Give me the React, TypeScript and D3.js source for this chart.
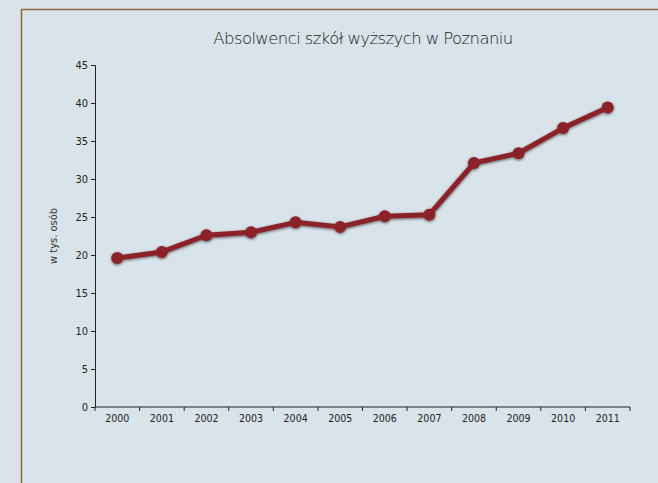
import React, { useEffect, useRef } from "react";
import * as d3 from "d3";

const years = ["2000", "2001", "2002", "2003", "2004", "2005", "2006", "2007", "2008", "2009", "2010", "2011"];
const graduates = [19.6, 20.4, 22.6, 23.0, 24.3, 23.7, 25.1, 25.3, 32.1, 33.4, 36.7, 39.4];
const yTicks = [0, 5, 10, 15, 20, 25, 30, 35, 40, 45];

const W = 658;
const H = 483;
const tickFont = "'DejaVu Sans Condensed', 'DejaVu Sans', sans-serif";

export default function App() {
  const ref = useRef<SVGSVGElement>(null);

  useEffect(() => {
    const svg = d3.select(ref.current);
    svg.selectAll("*").remove();

    const margin = { top: 65, right: 28, bottom: 76, left: 95 };
    const width = W - margin.left - margin.right;
    const height = H - margin.top - margin.bottom;

    svg.append("rect").attr("width", W).attr("height", H).attr("fill", "#d9e3ea");
    // frame (top + left border only)
    svg
      .append("path")
      .attr("d", `M21.5,${H} L21.5,9.5 L${W},9.5`)
      .attr("fill", "none")
      .attr("stroke", "#8c6a40")
      .attr("stroke-width", 1.5);

    const defs = svg.append("defs");
    const f = defs.append("filter").attr("id", "shadow").attr("x", "-20%").attr("y", "-20%").attr("width", "140%").attr("height", "140%");
    f.append("feGaussianBlur").attr("in", "SourceAlpha").attr("stdDeviation", 1.6).attr("result", "blur");
    f.append("feOffset").attr("in", "blur").attr("dx", 0).attr("dy", 1).attr("result", "off");
    f.append("feComponentTransfer").attr("in", "off").attr("result", "sh")
      .append("feFuncA").attr("type", "linear").attr("slope", 0.6);
    const m = f.append("feMerge");
    m.append("feMergeNode").attr("in", "sh");
    m.append("feMergeNode").attr("in", "SourceGraphic");

    const g = svg.append("g").attr("transform", `translate(${margin.left},${margin.top})`);

    const x = d3.scaleBand().domain(years).range([0, width]);
    const y = d3.scaleLinear().domain([0, 45]).range([height, 0]);

    const yAxis = g.append("g").call(d3.axisLeft(y).tickValues(yTicks).tickSize(4).tickPadding(3));
    yAxis.select(".domain").attr("d", `M-4,0.5H0.5V${height}`).attr("stroke", "#222");
    yAxis.selectAll("line").attr("stroke", "#222");
    yAxis.selectAll("text").attr("font-family", tickFont).attr("font-stretch", "condensed").attr("font-size", 11).attr("fill", "#222");

    const xAxis = g.append("g").attr("transform", `translate(0,${height})`).call(d3.axisBottom(x).tickSize(0).tickPadding(8));
    xAxis.select(".domain").attr("d", `M0,0H${width}V4`).attr("stroke", "#222");
    xAxis.selectAll("text").attr("font-family", tickFont).attr("font-stretch", "condensed").attr("font-size", 10.5).attr("fill", "#222");
    xAxis
      .selectAll(".sep")
      .data(years)
      .join("line")
      .attr("class", "sep")
      .attr("x1", (d) => x(d)!)
      .attr("x2", (d) => x(d)!)
      .attr("y1", 0)
      .attr("y2", 4)
      .attr("stroke", "#222");

    const cx = (d: string) => x(d)! + x.bandwidth() / 2;
    const line = d3
      .line<number>()
      .x((_, i) => cx(years[i]))
      .y((d) => y(d));

    const series = g.append("g").attr("filter", "url(#shadow)");
    series
      .append("path")
      .datum(graduates)
      .attr("d", line)
      .attr("fill", "none")
      .attr("stroke", "#8b2129")
      .attr("stroke-width", 5)
      .attr("stroke-linejoin", "round");
    series
      .selectAll("circle")
      .data(graduates)
      .join("circle")
      .attr("cx", (_, i) => cx(years[i]))
      .attr("cy", (d) => y(d))
      .attr("r", 6)
      .attr("fill", "#8b2129");

    svg
      .append("text")
      .attr("x", 363)
      .attr("y", 44)
      .attr("text-anchor", "middle")
      .attr("font-family", "'DejaVu Sans', sans-serif")
      .attr("font-weight", 200)
      .attr("font-size", 16.5)
      .attr("letter-spacing", -0.6)
      .attr("fill", "#222")
      .text("Absolwenci szkół wyższych w Poznaniu");

    svg
      .append("text")
      .attr("transform", `translate(57,236) rotate(-90)`)
      .attr("text-anchor", "middle")
      .attr("font-family", tickFont)
      .attr("font-stretch", "condensed")
      .attr("font-size", 11)
      .attr("fill", "#333")
      .text("w tys. osób");
  }, []);

  return (
    <svg
      ref={ref}
      width={W}
      height={H}
      style={{ position: "absolute", left: 0, top: 0, display: "block" }}
    />
  );
}
